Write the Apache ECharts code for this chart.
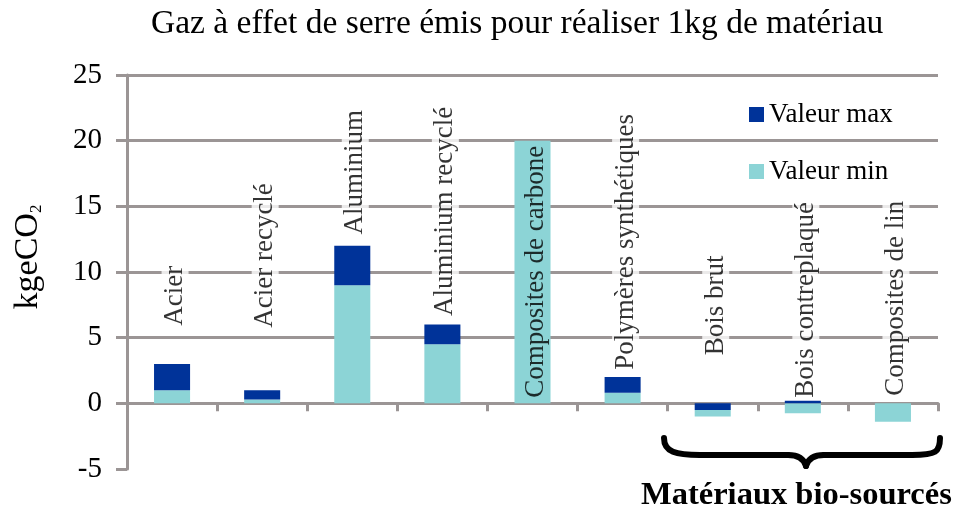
<!DOCTYPE html>
<html>
<head>
<meta charset="utf-8">
<script src="https://cdn.jsdelivr.net/npm/echarts@6/dist/echarts.min.js"></script>
<style>
  html, body { margin: 0; padding: 0; background: #fff; }
  #chart { width: 953px; height: 513px; }
</style>
</head>
<body>
<div id="chart"></div>
<script>
const categories = ['Acier', 'Acier recyclé', 'Aluminium', 'Aluminium recyclé', 'Composites de carbone',
  'Polymères synthétiques', 'Bois brut', 'Bois contreplaqué', 'Composites de lin']
// stacked pieces as drawn: light part (min) and the dark part on top of it (max - min)
const valeurMin = [1, 0.3, 9, 4.5, 20, 0.8, -0.5, -0.75, -1.4]
const valeurMax = [2, 0.7, 3, 1.5, 0, 1.2, -0.5, 0.2, 0]
const yTicks = [-5, 0, 5, 10, 15, 20, 25]

const FONT = '"Liberation Serif", "DejaVu Serif", serif'
const GRAY = '#9b9595'
const DARK = '#003399'
const LIGHT = '#8cd4d6'

// where the rotated name sits (value at the foot of the text)
const labelFoot = [5.75, 5.6, 12.7, 6.5, 0.27, 2.4, 3.5, 0.27, 0.42]

const chart = echarts.init(document.getElementById('chart'))

// negative dark pieces must be stacked first so they sit next to the zero line
const maxNeg = valeurMax.map(v => (v < 0 ? v : '-'))
const maxPos = valeurMax.map(v => (v > 0 ? v : '-'))

// curly brace under the bio-sourced materials
const braceStyle = { fill: null, stroke: '#000', lineWidth: 6, lineCap: 'round' }
const brace = [
  { type: 'bezierCurve', shape: { x1: 664, y1: 438, cpx1: 664, cpy1: 452, cpx2: 676, cpy2: 455, x2: 700, y2: 455 }, style: braceStyle },
  { type: 'line', shape: { x1: 700, y1: 455, x2: 788, y2: 455 }, style: braceStyle },
  { type: 'bezierCurve', shape: { x1: 788, y1: 455, cpx1: 798, cpy1: 455, cpx2: 804, cpy2: 459, x2: 806, y2: 466 }, style: braceStyle },
  { type: 'bezierCurve', shape: { x1: 806, y1: 466, cpx1: 808, cpy1: 459, cpx2: 814, cpy2: 455, x2: 824, y2: 455 }, style: braceStyle },
  { type: 'line', shape: { x1: 824, y1: 455, x2: 912, y2: 455 }, style: braceStyle },
  { type: 'bezierCurve', shape: { x1: 912, y1: 455, cpx1: 936, cpy1: 455, cpx2: 940, cpy2: 452, x2: 940, y2: 438 }, style: braceStyle }
]

const option = {
  animation: false,
  textStyle: { fontFamily: FONT },
  title: [
    {
      text: 'Gaz à effet de serre émis pour réaliser 1kg de matériau',
      left: 146,
      top: 2,
      textStyle: { fontFamily: FONT, fontSize: 33.5, fontWeight: 'normal', color: '#000' }
    },
    {
      text: 'Matériaux bio-sourcés',
      left: 636,
      top: 474,
      textStyle: { fontFamily: FONT, fontSize: 32.5, fontWeight: 'bold', color: '#000' }
    }
  ],
  legend: {
    orient: 'vertical',
    left: 744,
    top: 96,
    itemWidth: 15,
    itemHeight: 15,
    itemGap: 30,
    icon: 'rect',
    data: ['Valeur max', 'Valeur min'],
    textStyle: { fontFamily: FONT, fontSize: 27, color: '#000' }
  },
  grid: { left: 127, right: 15, top: 75, bottom: 44 },
  xAxis: {
    type: 'category',
    data: categories,
    axisLine: { lineStyle: { color: GRAY, width: 3 } },
    axisTick: { show: true, interval: 0, length: 8, lineStyle: { color: GRAY, width: 3 } },
    axisLabel: { show: false }
  },
  yAxis: {
    type: 'value',
    min: yTicks[0],
    max: yTicks[yTicks.length - 1],
    interval: 5,
    name: '{a|kgeCO}{b|2}',
    nameLocation: 'middle',
    nameGap: 82,
    nameTextStyle: {
      padding: [0, 0, 0, 30],
      rich: {
        a: { fontFamily: FONT, fontSize: 34, color: '#000' },
        b: { fontFamily: FONT, fontSize: 17, color: '#000', verticalAlign: 'bottom', padding: [14, 0, 0, 0] }
      }
    },
    axisLine: { show: true, lineStyle: { color: GRAY, width: 3 } },
    axisTick: { show: true, length: 11, lineStyle: { color: GRAY, width: 3 } },
    axisLabel: { fontFamily: FONT, fontSize: 29, color: '#000', margin: 25 },
    splitLine: {
      lineStyle: {
        color: yTicks.map((t, i) => (i === 0 ? 'rgba(0,0,0,0)' : GRAY)),
        width: 3
      }
    }
  },
  series: [
    {
      name: 'Valeur max',
      type: 'bar',
      stack: 'tot',
      barWidth: '40%',
      data: maxNeg,
      itemStyle: { color: DARK }
    },
    {
      name: 'Valeur min',
      type: 'bar',
      stack: 'tot',
      barWidth: '40%',
      data: valeurMin,
      itemStyle: { color: LIGHT }
    },
    {
      name: 'Valeur max',
      type: 'bar',
      stack: 'tot',
      barWidth: '40%',
      data: maxPos,
      itemStyle: { color: DARK }
    },
    {
      name: 'labels',
      type: 'scatter',
      symbolSize: 0,
      silent: true,
      z: 10,
      data: labelFoot.map((v, i) => ({
        value: v,
        label: { backgroundColor: valeurMin[i] > 15 ? 'transparent' : '#fff' }
      })),
      label: {
        show: true,
        position: [3, 0],
        rotate: 90,
        align: 'left',
        verticalAlign: 'middle',
        fontFamily: FONT,
        fontSize: 27,
        color: '#000',
        padding: [0, 2],
        formatter: p => categories[p.dataIndex]
      }
    }
  ],
  graphic: brace
}

chart.setOption(option)

window.addEventListener('resize', () => chart.resize())
</script>
</body>
</html>
